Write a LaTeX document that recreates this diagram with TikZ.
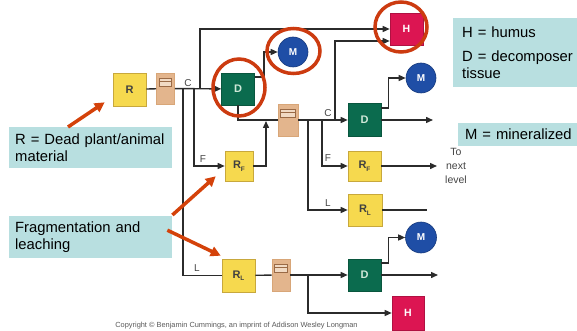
\documentclass[tikz,border=0pt]{standalone}
\usepackage{fontspec}
\setmainfont{Liberation Sans}
\usetikzlibrary{arrows.meta}
\definecolor{lineclr}{HTML}{2B2B2B}
\definecolor{yellowfill}{HTML}{F6D94E}
\definecolor{yellowedge}{HTML}{C8A83C}
\definecolor{tanfill}{HTML}{E3B58D}
\definecolor{tanedge}{HTML}{D8A678}
\definecolor{taninner}{HTML}{F1DAC4}
\definecolor{tanline}{HTML}{9A6A46}
\definecolor{dgreen}{HTML}{0B6B4E}
\definecolor{dtext}{HTML}{CFE8D8}
\definecolor{hred}{HTML}{DC1552}
\definecolor{mblue}{HTML}{1F4EA6}
\definecolor{mblueedge}{HTML}{16397C}
\definecolor{ringred}{HTML}{CC3B10}
\definecolor{arrorange}{HTML}{D4420A}
\definecolor{notebg}{HTML}{B8DFE0}
\definecolor{labelclr}{HTML}{444444}
\tikzset{
  conn/.style={draw=lineclr, line width=1.4pt},
  arr/.style={conn, -{Triangle[length=7pt,width=6pt]}},
  rbox/.style={rectangle, fill=yellowfill, draw=yellowedge, line width=0.6pt, inner sep=0pt,
    minimum width=33pt, minimum height=32pt, font=\bfseries\fontsize{11}{11}\selectfont, text=black!75},
  dbox/.style={rectangle, fill=dgreen, draw=dgreen!80!black, line width=0.6pt, inner sep=0pt,
    minimum width=33pt, minimum height=32pt, font=\bfseries\fontsize{11}{11}\selectfont, text=dtext},
  hbox/.style={rectangle, fill=hred, draw=hred!80!black, line width=0.6pt, inner sep=0pt,
    minimum width=33pt, minimum height=32pt, font=\bfseries\fontsize{10.5}{10.5}\selectfont, text=white},
  mcirc/.style={circle, fill=mblue, draw=mblueedge, line width=0.6pt, inner sep=0pt,
    minimum size=30pt, font=\bfseries\fontsize{10}{10}\selectfont, text=white},
  tanbox/.style={rectangle, fill=tanfill, draw=tanedge, line width=0.6pt, inner sep=0pt,
    minimum width=18pt, minimum height=31pt,
    path picture={
      \draw[draw=tanline, fill=taninner, line width=0.6pt]
        ([xshift=2.5pt,yshift=-5pt]path picture bounding box.north west)
        rectangle ([xshift=-3pt,yshift=-13pt]path picture bounding box.north east);
      \draw[draw=tanline, line width=0.4pt]
        ([xshift=2.5pt,yshift=-8pt]path picture bounding box.north west)
        -- ([xshift=-3pt,yshift=-8pt]path picture bounding box.north east);
    }},
  brlabel/.style={font=\fontsize{10}{10}\selectfont, text=labelclr, inner sep=0pt},
  ring/.style={draw=ringred, line width=3.5pt},
  pointer/.style={draw=arrorange, line width=3.5pt, -{Triangle[length=10pt,width=10pt]}},
  note/.style={rectangle, fill=notebg, inner sep=0pt, anchor=north west, align=left,
    font=\fontsize{14.8}{17}\selectfont, text=black}
}
\begin{document}
\begin{tikzpicture}[x=1pt,y=-1pt]
\useasboundingbox (0,0) rectangle (577,331);

% notes
\node[note, minimum width=163pt, minimum height=41pt, text width=163pt] (tR) at (9,127)
  {\hspace*{6pt}R = Dead plant/animal\\\hspace*{6pt}material};
\node[note, minimum width=163pt, minimum height=42pt, text width=163pt] (tFL) at (9,216)
  {\hspace*{6pt}Fragmentation and\\\hspace*{6pt}leaching};
\node[note, minimum width=150pt, minimum height=69pt, text width=150pt] (tH) at (453,18)
  {\hspace*{9pt}H = humus\\[7pt]\hspace*{9pt}D = decomposer\\\hspace*{9pt}tissue};
\node[note, minimum width=150pt, minimum height=23pt, text width=150pt] (tM) at (458,123)
  {\hspace*{7pt}M = mineralized};

% boxes
\node[rbox, minimum height=33pt] (R) at (129.5,89.5) {R};
\node[tanbox] (T1) at (165.5,88.5) {};
\node[dbox] (D1) at (238,89) {D};
\node[mcirc] (M1) at (293,52) {M};
\node[hbox] (H1) at (406.5,29) {H};
\node[rbox, minimum width=28pt, minimum height=30pt] (RF1) at (239,166) {R\raisebox{-2.5pt}{\fontsize{6.5}{6.5}\selectfont F}};
\node[tanbox, minimum width=20pt, minimum height=32pt] (T2) at (288,120) {};
\node[dbox, minimum height=33pt] (D2) at (364.5,120) {D};
\node[mcirc] (M2) at (421,78) {M};
\node[rbox, minimum height=30pt] (RF2) at (364.5,166) {R\raisebox{-2.5pt}{\fontsize{6.5}{6.5}\selectfont F}};
\node[rbox, minimum width=34pt] (RL2) at (365,210) {R\raisebox{-2.5pt}{\fontsize{6.5}{6.5}\selectfont L}};
\node[rbox, minimum height=33pt] (RL1) at (238.5,275.5) {R\raisebox{-2.5pt}{\fontsize{6.5}{6.5}\selectfont L}};
\node[tanbox, minimum height=32pt] (T3) at (281,275) {};
\node[dbox] (D3) at (364.5,275) {D};
\node[mcirc, minimum size=31pt] (M3) at (421,237.5) {M};
\node[hbox, minimum width=32pt, minimum height=34pt] (H2) at (408,313) {H};

% junction coordinates
\coordinate (j1) at (183,89);
\coordinate (j2) at (194,89);
\coordinate (j3) at (200,89);
\coordinate (m1) at (266,121);
\coordinate (j4) at (308,120);
\coordinate (j5) at (322,120);
\coordinate (j6) at (335,120);
\coordinate (j7) at (308,275);
\coordinate (e2) at (433,120);
\coordinate (e3) at (438,275);
\coordinate (e4) at (437,166);
\coordinate (e5) at (427,210);

% level 1
\draw[conn] (R) -- (T1);
\draw[arr] (T1) -- (D1);
\draw[arr] (j3) |- (H1.west);
\draw[arr] (j2) |- (RF1.west);
\draw[conn] (j1) |- (RL1.west);
\draw[arr] ([yshift=12pt]D1.east) -- ++(9,0) |- (M1.west);
\draw[conn] (D1.south) |- (T2.west);
\draw[arr] (RF1.east) -| (m1);
% level 2
\draw[arr] (T2) -- (D2);
\draw[arr] (j6) |- ([yshift=-12pt]H1.west);
\draw[arr] (j5) |- (RF2.west);
\draw[arr] (j4) |- (RL2.west);
\draw[arr] ([yshift=12pt]D2.east) -- ++(7,0) |- (M2.west);
\draw[arr] (D2) -- (e2);
\draw[arr] (RF2) -- (e4);
\draw[conn] (RL2) -- (e5);
% level 3
\draw[conn] (RL1) -- (T3);
\draw[arr] (T3) -- (D3);
\draw[arr] (j7) |- (H2.west);
\draw[arr] ([yshift=12pt]D3.east) -- ++(7,0) |- (M3.west);
\draw[arr] (D3) -- (e3);

% branch labels
\node[brlabel] (c1) at (188,83) {C};
\node[brlabel] (f1) at (203,159) {F};
\node[brlabel] (l1) at (197,268) {L};
\node[brlabel] (c2) at (328,113) {C};
\node[brlabel] (f2) at (328,158) {F};
\node[brlabel] (l2) at (328,203) {L};
\node[brlabel, align=center, font=\fontsize{10.5}{14}\selectfont] (next) at (456,166) {To\\next\\level};

% highlight rings
\draw[ring] ([xshift=1pt,yshift=1.5pt]D1.center) ellipse [x radius=26pt, y radius=28.5pt];
\draw[ring] ([xshift=0.5pt,yshift=1pt]M1.center) ellipse [x radius=26.5pt, y radius=22.5pt];
\draw[ring] ([xshift=-5.5pt,yshift=2pt]H1.center) ellipse [x radius=26pt, y radius=25pt];

% pointers
\draw[pointer] ([xshift=59pt]tR.north west) -- ([xshift=-8pt,yshift=4pt]R.south west);
\draw[pointer] ([yshift=1pt]tFL.north east) -- ([xshift=-9pt,yshift=5pt]RF1.south west);
\draw[pointer] ([xshift=-5pt,yshift=7pt]tFL.east) -- ([xshift=-1pt,yshift=3pt]RL1.north west);

% copyright
\node[font=\fontsize{7.4}{8}\selectfont, text=black!65, inner sep=0pt] (copy) at (236.5,326)
  {Copyright © Benjamin Cummings, an imprint of Addison Wesley Longman};
\end{tikzpicture}
\end{document}
